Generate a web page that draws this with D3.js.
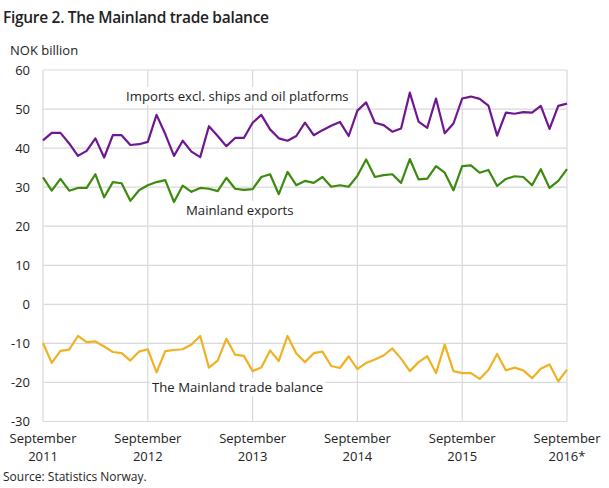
<!DOCTYPE html>
<html>
<head>
<meta charset="utf-8">
<script src="https://cdn.jsdelivr.net/npm/d3@7/dist/d3.min.js"></script>
<style>
  body { margin: 0; background: #fff; }
  svg { display: block; font-family: "Open Sans", sans-serif; }
</style>
</head>
<body>
<svg id="chart" width="609" height="488"></svg>
<script>
// Monthly, September 2011 .. September 2016 (61 months), NOK billion
const months = d3.range(61);
const tickMonths = [0, 12, 24, 36, 48, 60];
const tickLabels = [["September","2011"],["September","2012"],["September","2013"],["September","2014"],["September","2015"],["September","2016*"]];
const yTicks = [-30, -20, -10, 0, 10, 20, 30, 40, 50, 60];

const imports = [42.0,43.9,43.9,41.2,38.0,39.3,42.5,37.6,43.3,43.3,40.8,41.0,41.6,48.5,43.6,38.0,41.9,39.1,37.7,45.6,
  43.1,40.5,42.6,42.6,46.5,48.5,44.8,42.5,41.9,43.1,46.5,43.3,44.6,45.7,46.7,43.1,49.6,51.7,46.5,45.9,
  44.2,45.0,54.2,46.8,45.2,52.7,43.8,46.3,52.7,53.2,52.6,50.9,43.2,49.1,48.8,49.2,49.1,50.8,44.9,50.8,51.4];
const exportsM = [32.5,29.1,32.1,29.1,29.8,29.8,33.3,27.4,31.3,31.0,26.5,29.2,30.5,31.3,31.8,26.2,30.4,28.8,29.8,29.6,
  29.0,32.4,29.6,29.3,29.5,32.6,33.3,28.2,33.9,30.5,31.6,31.1,32.6,30.1,30.5,30.1,32.9,37.1,32.6,33.1,
  33.3,31.1,37.2,32.0,32.2,35.4,33.7,29.2,35.4,35.6,33.7,34.4,30.3,32.1,32.8,32.6,30.5,34.6,29.8,31.6,34.6];
const balance = [-9.9,-15.0,-11.9,-11.6,-8.1,-9.7,-9.5,-10.8,-12.2,-12.5,-14.4,-12.1,-11.5,-17.4,-12.0,-11.7,-11.5,-10.3,-8.1,-16.2,
  -14.4,-8.8,-12.9,-13.2,-17.1,-16.2,-11.8,-14.5,-8.1,-12.6,-14.8,-12.5,-12.1,-15.8,-16.3,-13.3,-16.6,-15.0,-14.1,-13.1,
  -11.3,-13.9,-17.1,-14.8,-13.3,-17.6,-10.3,-17.1,-17.6,-17.6,-19.1,-16.8,-12.7,-16.9,-16.2,-16.9,-18.9,-16.5,-15.4,-19.7,-16.7];

const seriesNames = ["Imports excl. ships and oil platforms", "Mainland exports", "The Mainland trade balance"];
const colors = ["#6f1791", "#3c8a0e", "#efb225"];

const svg = d3.select("#chart");
const x = d3.scaleLinear().domain([0, 60]).range([43, 567]);
const y = d3.scaleLinear().domain([-30, 60]).range([421.5, 70]);

// gridlines
svg.append("g").selectAll("line").data(yTicks).join("line")
  .attr("x1", x(0)).attr("x2", x(60))
  .attr("y1", d => y(d)).attr("y2", d => y(d))
  .attr("stroke", "#d9d9d9").attr("stroke-width", 1.2);
svg.append("g").selectAll("line").data(tickMonths).join("line")
  .attr("x1", d => x(d)).attr("x2", d => x(d))
  .attr("y1", y(60)).attr("y2", y(-30))
  .attr("stroke", "#d9d9d9").attr("stroke-width", 1.2);

// y tick labels
svg.append("g").selectAll("text").data(yTicks).join("text")
  .attr("x", 30).attr("y", d => y(d)).attr("dy", "0.35em")
  .attr("text-anchor", "end").attr("font-size", 13).attr("fill", "#222")
  .text(d => d);

// x tick labels
const xt = svg.append("g").selectAll("g").data(tickMonths).join("g")
  .attr("transform", d => `translate(${x(d)},0)`);
xt.append("text").attr("y", 442.5).attr("text-anchor", "middle").attr("font-size", 13).attr("fill", "#222")
  .text((d, i) => tickLabels[i][0]);
xt.append("text").attr("y", 460.5).attr("text-anchor", "middle").attr("font-size", 13).attr("fill", "#222")
  .text((d, i) => tickLabels[i][1]);

// labels with white background
const labelPos = [[126, 101], [186, 215], [152, 392]];
labelPos.forEach((p, i) => {
  const g = svg.append("g");
  const t = g.append("text").attr("x", p[0]).attr("y", p[1]).attr("font-size", 13.2).attr("fill", "#222").text(seriesNames[i]);
  const bb = t.node().getBBox();
  g.insert("rect", ":first-child").attr("x", bb.x - 2).attr("y", bb.y).attr("width", bb.width + 4).attr("height", bb.height).attr("fill", "#fff");
});

// lines
const line = d3.line().x((d, i) => x(months[i])).y(d => y(d));
[imports, exportsM, balance].forEach((s, i) => {
  svg.append("path").datum(s).attr("d", line).attr("fill", "none")
    .attr("stroke", colors[i]).attr("stroke-width", 2.2).attr("stroke-linejoin", "round");
});

// title etc
svg.append("text").attr("x", 3).attr("y", 23).attr("font-size", 15.5).attr("font-weight", 600)
  .attr("letter-spacing", "-0.3px").attr("fill", "#222")
  .text("Figure 2. The Mainland trade balance");
svg.append("text").attr("x", 10).attr("y", 55).attr("font-size", 13).attr("fill", "#222").text("NOK billion");
svg.append("text").attr("x", 3).attr("y", 481).attr("font-size", 12).attr("fill", "#222").text("Source: Statistics Norway.");
</script>
</body>
</html>
